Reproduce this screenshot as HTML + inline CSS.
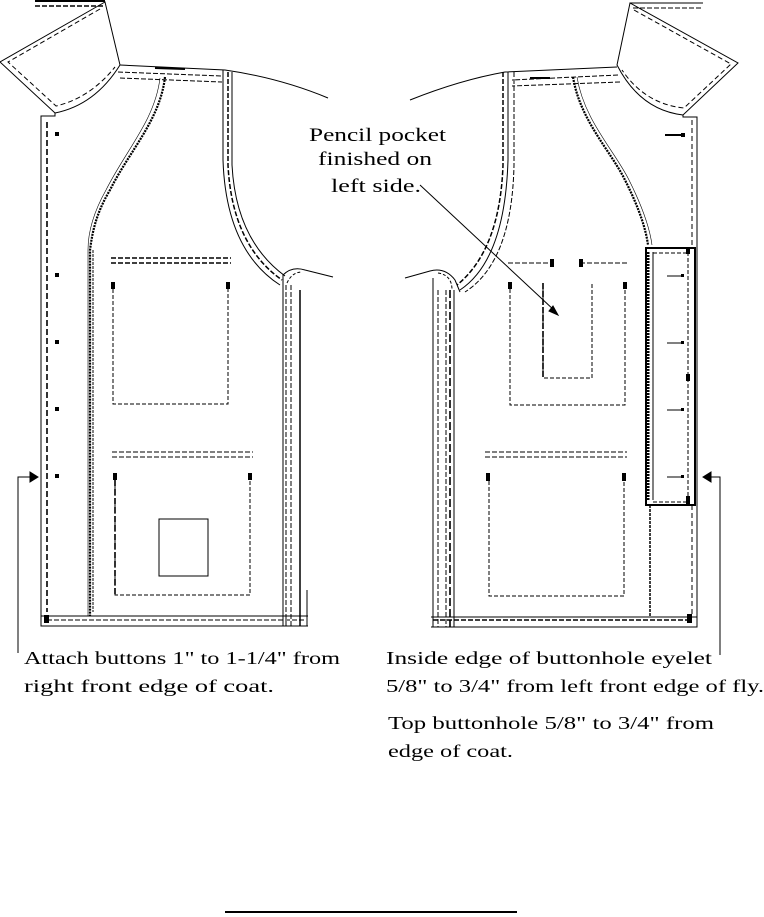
<!DOCTYPE html>
<html><head><meta charset="utf-8"><style>
html,body{margin:0;padding:0;background:#fff;}
svg{display:block;}
text{font-family:"Liberation Serif",serif;font-size:18px;fill:#000;}
</style></head><body>
<svg width="764" height="917" viewBox="0 0 764 917" xmlns="http://www.w3.org/2000/svg">
<g fill="none" stroke="#000" stroke-width="1">
<line x1="35" y1="1" x2="105" y2="1" stroke-width="2"/>
<line x1="35" y1="6" x2="103" y2="6" stroke-dasharray="5,2" stroke-width="1.5"/>
<path d="M105 2 L0 62 L55 113 Q95 105 120 65 Z"/>
<path d="M100 9 L8 62 L56 106 Q90 98 115 67" stroke-dasharray="5,3"/>
<path d="M120 65 L225 70 Q280 78 328 98"/>
<path d="M118 72 L222 76 M120 78 L222 82" stroke-dasharray="5,2"/>
<line x1="155" y1="68" x2="185" y2="69" stroke-width="2"/>
<path d="M55 113 L55 116 L41 116 L41 626 L308 626"/>
<line x1="47" y1="122" x2="47" y2="612" stroke-dasharray="6,3" stroke-width="1.6"/>
<line x1="41" y1="616" x2="308" y2="616"/>
<line x1="47" y1="620" x2="306" y2="620" stroke-dasharray="5,2"/>
<path d="M165 77 C160 120 130 150 110 190 C95 215 92 235 90 250 L90 616" stroke-dasharray="2,1" stroke-width="2.2"/>
<path d="M160 78 C155 120 126 150 106 190 C92 215 88 235 88 250 L88 616" stroke-width="0.6"/>
<line x1="93" y1="250" x2="93" y2="612" stroke-dasharray="3,1"/>
<path d="M223 70 L223 160 Q226 250 280 285"/>
<path d="M228 72 L228 165 Q232 245 282 280" stroke-dasharray="5,2" stroke-width="1.5"/>
<path d="M232 72 L232 165 Q236 240 285 276"/>
<path d="M283 285 L283 275 Q292 266 305 270 L333 277"/>
<path d="M287 283 Q292 272 302 272" stroke-dasharray="3,2"/>
<line x1="283" y1="285" x2="283" y2="626"/>
<line x1="286" y1="285" x2="286" y2="626" stroke-dasharray="5,2"/>
<line x1="291" y1="285" x2="291" y2="626" stroke-dasharray="5,2"/>
<line x1="300" y1="290" x2="300" y2="626" stroke-width="1.5"/>
<line x1="307" y1="590" x2="307" y2="626"/>
<g fill="#000" stroke="none">
<rect x="55" y="132" width="4" height="4"/><rect x="55" y="273" width="4" height="4"/>
<rect x="55" y="340" width="4" height="4"/><rect x="55" y="407" width="4" height="4"/>
<rect x="55" y="474" width="4" height="4"/><rect x="44" y="615" width="5" height="8"/>
<rect x="111" y="282" width="4" height="7"/><rect x="226" y="282" width="4" height="7"/>
<rect x="113" y="473" width="4" height="7"/><rect x="248" y="473" width="4" height="7"/>
</g>
<line x1="111" y1="258" x2="231" y2="258" stroke-dasharray="5,2" stroke-width="1.5"/>
<line x1="111" y1="263" x2="231" y2="263" stroke-dasharray="5,2" stroke-width="1.5"/>
<path d="M113 289 L113 404 L228 404 L228 289" stroke-dasharray="4,2"/>
<line x1="112" y1="452" x2="253" y2="452" stroke-dasharray="5,2"/>
<line x1="112" y1="457" x2="253" y2="457" stroke-dasharray="5,2"/>
<path d="M115 480 L115 595 L250 595 L250 480" stroke-dasharray="4,2"/>
<line x1="115" y1="480" x2="115" y2="595" stroke-dasharray="6,3" stroke-width="1.6"/>
<rect x="159" y="519" width="49" height="57"/>

<line x1="630" y1="3" x2="703" y2="3"/>
<line x1="633" y1="8" x2="703" y2="8" stroke-dasharray="5,2"/>
<path d="M630 3 L738 63 L683 115 Q640 110 617 65 Z"/>
<path d="M634 10 L731 64 L684 108 Q645 104 622 70" stroke-dasharray="5,3"/>
<path d="M617 67 L505 72 Q460 80 410 100"/>
<path d="M618 75 L512 80 M620 82 L512 86" stroke-dasharray="5,2"/>
<line x1="530" y1="78" x2="550" y2="78" stroke-width="2"/>
<path d="M683 115 L683 117 L697 117 L697 627 L431 627"/>
<line x1="692" y1="120" x2="692" y2="247" stroke-dasharray="5,3"/>
<line x1="692" y1="505" x2="692" y2="615" stroke-dasharray="5,3"/>
<line x1="431" y1="617" x2="697" y2="617"/>
<line x1="433" y1="620" x2="692" y2="620" stroke-dasharray="5,2" stroke-width="1.6"/>
<path d="M573 77 C580 120 610 150 625 180 C640 210 646 230 648 245" stroke-dasharray="2,1" stroke-width="2.2"/>
<path d="M577 77 C584 120 614 150 629 180 C644 210 650 230 652 245" stroke-width="0.6"/>
<rect x="646" y="248" width="49" height="257" stroke-width="2"/>
<line x1="648" y1="252" x2="648" y2="500" stroke-dasharray="2,1" stroke-width="3"/>
<line x1="653" y1="252" x2="653" y2="500"/>
<line x1="650" y1="505" x2="650" y2="617" stroke-dasharray="3,1" stroke-width="1.5"/>
<line x1="688" y1="252" x2="688" y2="500" stroke-dasharray="4,2"/>
<line x1="653" y1="253" x2="688" y2="253" stroke-dasharray="4,2"/>
<line x1="653" y1="502" x2="688" y2="502" stroke-dasharray="4,2"/>
<g stroke-width="1">
<line x1="665" y1="135" x2="683" y2="135" stroke-width="2"/>
<line x1="667" y1="276" x2="683" y2="276"/>
<line x1="667" y1="343" x2="683" y2="343"/>
<line x1="667" y1="410" x2="683" y2="410"/>
<line x1="667" y1="477" x2="683" y2="477"/>
</g>
<g fill="#000" stroke="none">
<rect x="681" y="133" width="4" height="4"/><rect x="681" y="274" width="3" height="3"/>
<rect x="681" y="341" width="3" height="3"/><rect x="681" y="408" width="3" height="3"/>
<rect x="681" y="475" width="3" height="3"/>
<rect x="686" y="247" width="4" height="7"/><rect x="686" y="374" width="4" height="7"/>
<rect x="686" y="496" width="4" height="8"/><rect x="687" y="614" width="5" height="9"/>
<rect x="550" y="259" width="4" height="8"/><rect x="579" y="259" width="4" height="8"/>
<rect x="508" y="282" width="4" height="7"/><rect x="623" y="282" width="4" height="7"/>
<rect x="486" y="473" width="4" height="8"/><rect x="622" y="473" width="4" height="8"/>
</g>
<path d="M508 72 L508 160 Q505 260 460 290"/>
<path d="M503 72 L503 165 Q500 250 457 285" stroke-dasharray="5,2" stroke-width="1.5"/>
<path d="M514 72 L514 165 Q512 262 465 292" stroke-dasharray="5,2"/>
<path d="M405 278 L430 271 Q445 267 455 280 L460 292"/>
<path d="M438 273 Q452 275 452 290" stroke-dasharray="3,2"/>
<line x1="433" y1="278" x2="433" y2="627"/>
<line x1="438" y1="290" x2="438" y2="627" stroke-dasharray="5,2"/>
<line x1="446" y1="290" x2="446" y2="627" stroke-dasharray="5,2"/>
<line x1="450" y1="290" x2="450" y2="627" stroke-dasharray="8,3" stroke-width="1.6"/>
<line x1="454" y1="290" x2="454" y2="627"/>
<line x1="508" y1="263" x2="552" y2="263" stroke-dasharray="5,2"/>
<line x1="580" y1="263" x2="628" y2="263" stroke-dasharray="5,2"/>
<path d="M510 289 L510 405 L625 405 L625 289" stroke-dasharray="4,2"/>
<path d="M543 283 L543 378 L592 378 L592 283" stroke-dasharray="4,2"/>
<line x1="543" y1="283" x2="543" y2="378" stroke-dasharray="6,2" stroke-width="1.6"/>
<line x1="485" y1="452" x2="627" y2="452" stroke-dasharray="5,2"/>
<line x1="485" y1="457" x2="627" y2="457" stroke-dasharray="5,2"/>
<path d="M489 481 L489 596 L624 596 L624 481" stroke-dasharray="4,2"/>
<line x1="420" y1="185" x2="555" y2="311"/>
<polygon points="558,315 549,311 553,306" fill="#000"/>
<path d="M18 653 L18 477 L32 477"/>
<polygon points="38,477 30,472 30,482" fill="#000"/>
<path d="M720 655 L720 477 L710 477"/>
<polygon points="703,477 711,472 711,482" fill="#000"/>
<line x1="225" y1="912" x2="517" y2="912" stroke-width="2"/>
</g>
<text x="309" y="141" font-size="19" textLength="137" lengthAdjust="spacingAndGlyphs" style="font-size:19px">Pencil pocket</text>
<text x="318" y="165" textLength="114" lengthAdjust="spacingAndGlyphs" style="font-size:19px">finished on</text>
<text x="331" y="192" textLength="90" lengthAdjust="spacingAndGlyphs" style="font-size:19px">left side.</text>
<text x="24" y="664" textLength="316" lengthAdjust="spacingAndGlyphs">Attach buttons 1" to 1-1/4" from</text>
<text x="24" y="692" textLength="250" lengthAdjust="spacingAndGlyphs">right front edge of coat.</text>
<text x="386" y="664" textLength="326" lengthAdjust="spacingAndGlyphs">Inside edge of buttonhole eyelet</text>
<text x="386" y="692" textLength="378" lengthAdjust="spacingAndGlyphs">5/8" to 3/4" from left front edge of fly.</text>
<text x="388" y="729" textLength="326" lengthAdjust="spacingAndGlyphs">Top buttonhole 5/8" to 3/4" from</text>
<text x="388" y="757" textLength="125" lengthAdjust="spacingAndGlyphs">edge of coat.</text>
</svg>
</body></html>
